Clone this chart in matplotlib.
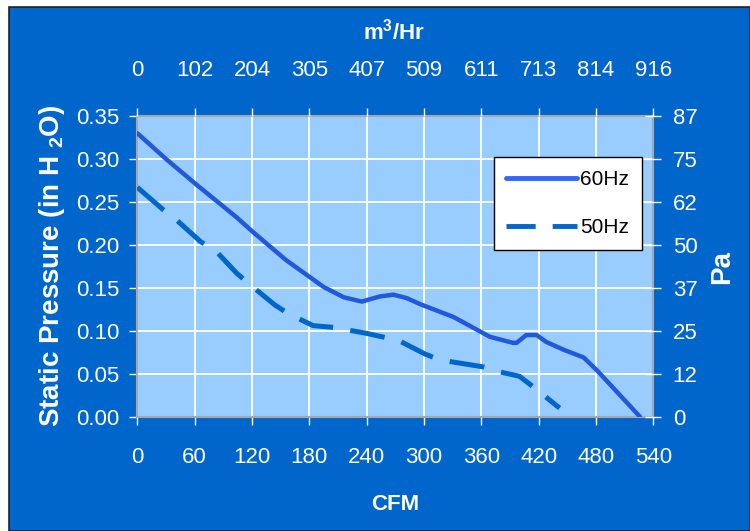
import matplotlib
matplotlib.use("Agg")
import matplotlib.pyplot as plt
from matplotlib.patches import Rectangle
from matplotlib.lines import Line2D

plt.rcParams['font.family'] = ['Liberation Sans', 'DejaVu Sans']
plt.rcParams['mathtext.default'] = 'regular'

# Data
cfm_60 = [0, 30, 62, 104, 121, 156, 195, 216, 235, 254, 268, 282, 296, 331, 369,
          393, 397, 407, 418, 428, 446, 467, 481, 526]
p_60 = [0.330, 0.300, 0.270, 0.232, 0.215, 0.182, 0.151, 0.139, 0.134, 0.140, 0.142,
        0.138, 0.131, 0.116, 0.093, 0.086, 0.086, 0.095, 0.095, 0.087, 0.078, 0.069,
        0.054, 0.0]
cfm_50 = [0, 27, 41, 66, 83, 104, 121, 144, 158, 184, 205, 240, 252, 273, 301, 317,
          334, 362, 380, 400, 414, 442]
p_50 = [0.267, 0.241, 0.229, 0.204, 0.192, 0.167, 0.151, 0.130, 0.120, 0.106, 0.104,
        0.097, 0.094, 0.089, 0.073, 0.066, 0.063, 0.058, 0.052, 0.047, 0.035, 0.010]

cfm_ticks = [0, 60, 120, 180, 240, 300, 360, 420, 480, 540]
m3hr_labels = ['0', '102', '204', '305', '407', '509', '611', '713', '814', '916']
inh2o_ticks = [0.00, 0.05, 0.10, 0.15, 0.20, 0.25, 0.30, 0.35]
pa_labels = ['0', '12', '25', '37', '50', '62', '75', '87']

BG = '#0066cc'
PLOT_BG = '#99ccff'
C60 = '#2259dc'
C60_LEG = '#3366ff'
C50 = '#0066cc'
W, H = 750, 531
TICK_FS = 16

fig = plt.figure(figsize=(7.5, 5.31), dpi=100, facecolor='white')
fig.patches.append(Rectangle((9 / W, 0), 1 - 9 / W, 1 - 7 / H, transform=fig.transFigure,
                             facecolor=BG, edgecolor='#222222', linewidth=1.2, zorder=-10))

ax = fig.add_axes([137.3 / W, 1 - 416.7 / H, (653.3 - 137.3) / W, (416.7 - 116) / H])
ax.set_facecolor(PLOT_BG)
ax.set_xlim(0, 540)
ax.set_ylim(0, 0.35)
ax.set_xticks(cfm_ticks)
ax.set_yticks(inh2o_ticks)
ax.set_xticklabels([str(v) for v in cfm_ticks])
ax.set_yticklabels([f'{v:.2f}' for v in inh2o_ticks])
ax.grid(True, color='white', linewidth=1.3)
ax.set_axisbelow(True)
for s in ax.spines.values():
    s.set_color('#a8a8a8')
    s.set_linewidth(1.5)
ax.tick_params(axis='both', colors='white', labelsize=TICK_FS, length=6, width=1)
ax.tick_params(axis='x', pad=16)
ax.tick_params(axis='y', pad=7)

ax.plot(cfm_60, p_60, color=C60, linewidth=3.2, solid_joinstyle='round', solid_capstyle='round', zorder=3)
ax.plot(cfm_50, p_50, color=C50, linewidth=3.6, dashes=(7, 3.5), zorder=3)

# right axis (Pa)
axr = ax.twinx()
axr.set_ylim(0, 0.35)
axr.set_yticks(inh2o_ticks)
axr.set_yticklabels(pa_labels)
axr.tick_params(axis='y', colors='white', labelsize=TICK_FS, length=12, width=1, direction='inout', pad=8)
for s in axr.spines.values():
    s.set_visible(False)

# top axis (m3/Hr)
axt = ax.twiny()
axt.set_xlim(0, 540)
axt.set_xticks(cfm_ticks)
axt.set_xticklabels(m3hr_labels)
axt.tick_params(axis='x', colors='white', labelsize=TICK_FS, length=6, width=1, pad=19)
for s in axt.spines.values():
    s.set_visible(False)

handles = [Line2D([], [], color=C60_LEG, linewidth=3.5, solid_capstyle='round'),
           Line2D([], [], color=C50, linewidth=3.5, dashes=(6, 3.5))]
leg = axt.legend(handles, ['60Hz', '50Hz'], loc='upper left', bbox_to_anchor=(0.691, 0.862),
                 fontsize=15, frameon=True, fancybox=False, framealpha=1, edgecolor='black',
                 handlelength=3.4, labelspacing=1.4, handletextpad=0.15, borderpad=0.6,
                 borderaxespad=0)
leg.get_frame().set_linewidth(1.0)
leg.set_zorder(5)

fig.text(395 / W, 1 - 505 / H, 'CFM', color='white', fontsize=16, fontweight='bold',
         ha='center', va='center')
fig.text(394 / W, 1 - 32 / H, 'm$^3$/Hr', color='white', fontsize=16, fontweight='bold',
         ha='center', va='center')
fig.text(52 / W, 1 - 266 / H, 'Static Pressure (in H $_2$O)', color='white', fontsize=20,
         fontweight='bold', ha='center', va='center', rotation=90)
fig.text(722 / W, 1 - 267 / H, 'Pa', color='white', fontsize=20, fontweight='bold',
         ha='center', va='center', rotation=90)

fig.savefig('out.png', dpi=100, facecolor=fig.get_facecolor())
